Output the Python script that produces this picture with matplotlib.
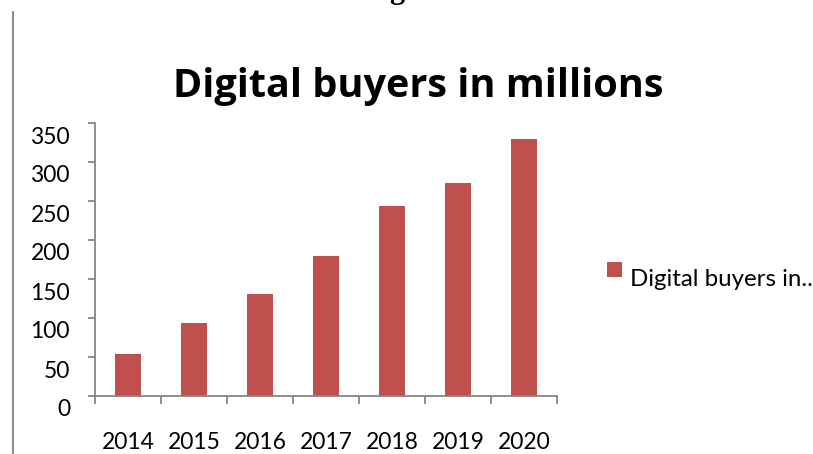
import matplotlib
matplotlib.use('Agg')
import matplotlib.pyplot as plt
import matplotlib.transforms as mtransforms
from matplotlib.lines import Line2D
from matplotlib.patches import Rectangle
from matplotlib.ticker import FixedLocator

# Digital buyers, millions
years = ['2014', '2015', '2016', '2017', '2018', '2019', '2020']
buyers = [54, 93, 131, 180, 244, 273, 329]
y_ticks = [0, 50, 100, 150, 200, 250, 300, 350]
chart_title = 'Digital buyers in millions'
legend_label = 'Digital buyers in..'

bar_color = '#C0504D'
axis_color = '#868686'
plt.rcParams['font.family'] = ['Lato', 'DejaVu Sans']

W, H = 813, 454
fig = plt.figure(figsize=(W / 100, H / 100), dpi=100)
ax = fig.add_axes([95 / W, 1 - 396 / H, (557 - 95) / W, (396 - 123) / H])

x = list(range(len(years)))
ax.bar(x, buyers, width=0.4, color=bar_color, zorder=2)

ax.set_xlim(-0.5, len(years) - 0.5)
ax.set_ylim(0, 350)
for side in ['top', 'right']:
	ax.spines[side].set_visible(False)
for side in ['left', 'bottom']:
	ax.spines[side].set_color(axis_color)
	ax.spines[side].set_linewidth(1.3)

# category labels centred, tick marks on the boundaries
ax.set_xticks(x)
ax.set_xticklabels(years, fontsize=16.5)
ax.xaxis.set_minor_locator(FixedLocator([i - 0.5 for i in range(len(years) + 1)]))
ax.tick_params(axis='x', which='major', length=0, pad=26)
ax.tick_params(axis='x', which='minor', length=5.8, width=1.3, color=axis_color, direction='out')

ax.set_yticks(y_ticks)
ax.set_yticklabels([str(v) for v in y_ticks], fontsize=16.5)
ax.tick_params(axis='y', length=5, width=1.3, color=axis_color, direction='out', pad=13)
shift = mtransforms.ScaledTranslation(0, -12 / 100, fig.dpi_scale_trans)
for lab in ax.get_yticklabels():
	lab.set_transform(lab.get_transform() + shift)

fig.text(418 / W, 1 - 97 / H, chart_title, fontsize=28.5, fontweight='bold',
	family=['Open Sans', 'DejaVu Sans'], ha='center', va='baseline')

# legend key and text
fig.add_artist(Rectangle((607 / W, 1 - 277 / H), 15 / W, 15 / H,
	transform=fig.transFigure, facecolor=bar_color, edgecolor='none'))
fig.text(630 / W, 1 - 280 / H, legend_label, fontsize=17.3, ha='left', va='center')

# page margin rule and clipped heading above the chart
fig.add_artist(Line2D([13 / W, 13 / W], [0, 1 - 12 / H], transform=fig.transFigure,
	color='#808080', linewidth=1.3))
fig.text(389 / W, 1 + 2 / H, 'g', fontsize=22, fontweight='bold',
	family='Liberation Serif', ha='left', va='baseline')

fig.savefig('out.png', dpi=100)
